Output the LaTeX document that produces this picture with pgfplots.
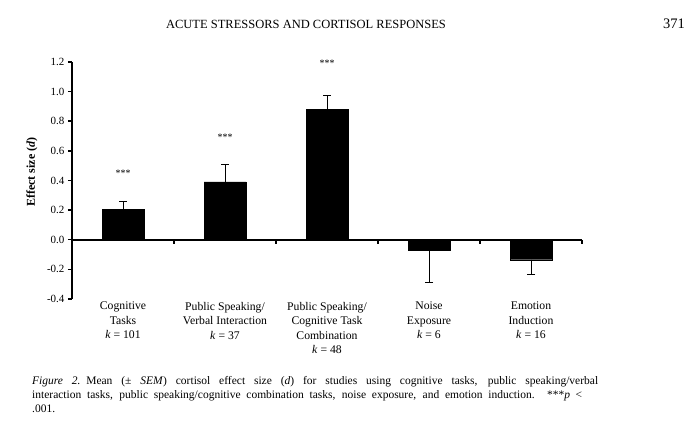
\documentclass[border=0pt]{standalone}
\usepackage{fontspec}
\setmainfont{Liberation Serif}
\usepackage{pgfplots}
\usepackage{pgfplotstable}
\pgfplotsset{compat=1.18}

% mean effect size d and SEM, read off the figure
\pgfplotstableread{
x y e
0 0.203 0.057
1 0.390 0.115
2 0.878 0.095
}\posdata
\pgfplotstableread{
x y e
3 -0.068 0.222
4 -0.135 0.100
}\negdata

\begin{document}
\begin{tikzpicture}
\useasboundingbox (0,0) rectangle (692pt,435pt);
\node[anchor=base, inner sep=0pt, font=\fontsize{12.5}{14}\selectfont] at (306pt,406pt) {ACUTE STRESSORS AND CORTISOL RESPONSES};
\node[anchor=base, inner sep=0pt, font=\fontsize{14.5}{16}\selectfont] at (674pt,406pt) {371};
\node[rotate=90, inner sep=0pt, font=\fontsize{12}{14}\selectfont\bfseries] at (32pt,263pt) {Effect size (\textit{d})};
\begin{axis}[
  at={(72pt,136pt)}, anchor=south west,
  scale only axis, width=510pt, height=237pt,
  xmin=-0.5, xmax=4.5, ymin=-0.4, ymax=1.2,
  axis y line*=left, axis x line*=middle,
  axis line style={line width=1.8pt, black},
  xtick={0.5,1.5,2.5,3.5,4.5}, xticklabels={},
  ytick={-0.4,-0.2,0,0.2,0.4,0.6,0.8,1.0,1.2},
  /pgf/number format/assume math mode=true,
  yticklabel style={/pgf/number format/fixed, /pgf/number format/fixed zerofill,
    /pgf/number format/precision=1, font=\fontsize{11}{13}\selectfont},
  tick align=outside, major tick length=4pt,
  tick style={line width=1.5pt, black},
  clip=false,
]
\addplot[ybar, bar width=42pt, bar shift=0pt, fill=black, draw=black,
  error bars/.cd, y dir=plus, y explicit,
  error bar style={line width=0.9pt, black},
  error mark options={rotate=90, mark size=4pt, line width=0.9pt, black}]
  table[x=x, y=y, y error=e] {\posdata};
\addplot[ybar, bar width=42pt, bar shift=0pt, fill=black, draw=black,
  error bars/.cd, y dir=minus, y explicit,
  error bar style={line width=0.9pt, black},
  error mark options={rotate=90, mark size=4pt, line width=0.9pt, black}]
  table[x=x, y=y, y error=e] {\negdata};

\node[font=\fontsize{10}{11}\selectfont] at (axis cs:0,0.45) {***};
\node[font=\fontsize{10}{11}\selectfont] at (axis cs:1,0.69) {***};
\node[font=\fontsize{10}{11}\selectfont] at (axis cs:2,1.19) {***};

\tikzset{catlabel/.style={anchor=north, align=center, inner sep=0pt, yshift=-3pt,
  font=\fontsize{11.7}{14.5}\selectfont}}
\node[catlabel] at (axis cs:0,-0.4) {Cognitive\\Tasks\\\textit{k} = 101};
\node[catlabel] at (axis cs:1,-0.4) {Public Speaking/\\Verbal Interaction\\\textit{k} = 37};
\node[catlabel] at (axis cs:2,-0.4) {Public Speaking/\\Cognitive Task\\Combination\\\textit{k} = 48};
\node[catlabel] at (axis cs:3,-0.4) {Noise\\Exposure\\\textit{k} = 6};
\node[catlabel] at (axis cs:4,-0.4) {Emotion\\Induction\\\textit{k} = 16};
\end{axis}
\tikzset{capline/.style={anchor=base west, inner sep=0pt, font=\fontsize{11.5}{14}\selectfont}}
\node[capline] at (32pt,50pt) {\makebox[566pt][s]{\textit{Figure 2.}\enspace Mean (± \textit{SEM}) cortisol effect size (\textit{d}) for studies using cognitive tasks, public speaking/verbal}};
\node[capline] at (32pt,36pt) {\makebox[550pt][s]{interaction tasks, public speaking/cognitive combination tasks, noise exposure, and emotion induction. ***\textit{p} <}};
\node[capline] at (32pt,22pt) {.001.};
\end{tikzpicture}
\end{document}
